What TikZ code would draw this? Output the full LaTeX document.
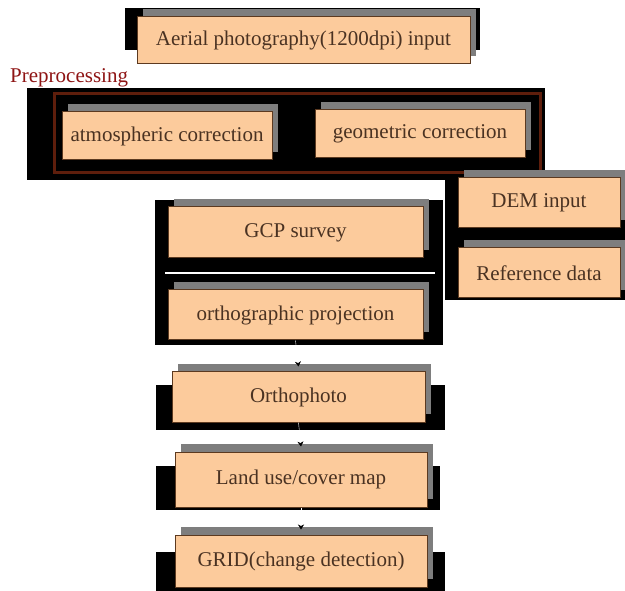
\documentclass[tikz,border=0pt]{standalone}
\usepackage{fontspec}
\setmainfont{Liberation Serif}
\usetikzlibrary{shadows,arrows.meta}
\definecolor{peach}{HTML}{FCCB9C}
\definecolor{boxline}{HTML}{5C3A20}
\definecolor{txt}{HTML}{4A3222}
\definecolor{frame}{HTML}{5E1E0C}
\definecolor{prered}{HTML}{8E1414}
\definecolor{shade}{HTML}{7E7E7E}
\begin{document}
\begin{tikzpicture}[x=1pt,y=-1pt,
  procbox/.style={draw=boxline, line width=1pt, fill=peach, text=txt,
    font=\fontsize{21}{24}\selectfont, inner sep=0pt,
    general shadow={fill=shade, shadow xshift=6pt, shadow yshift=8pt}},
  blackbg/.style={fill=black},
  link/.style={draw=white, line width=0.4pt, -{Stealth[length=5pt,width=6pt,black]}}]
\useasboundingbox (0,0) rectangle (625,591);
% black backgrounds
\fill[blackbg] (125,8) rectangle (480,50);
\fill[blackbg] (27,88) rectangle (545,180);
\fill[blackbg] (445,172) rectangle (625,300);
\fill[blackbg] (155,200) rectangle (443,345);
\draw[white, line width=1.5pt] (165,273) -- (435,273);
\fill[blackbg] (156,385) rectangle (445,430);
\fill[blackbg] (156,466) rectangle (440,510);
\fill[blackbg] (156,552) rectangle (445,591);
% preprocessing frame
\draw[frame, line width=3pt, fill=black] (54,94) rectangle (540,173);
\node[anchor=west, text=prered, font=\fontsize{21}{24}\selectfont, inner sep=0pt] (pre) at (10,78) {Preprocessing};
% boxes
\node[procbox, minimum width=333pt, minimum height=47pt] (aer) at (303.5,40.5) {Aerial photography(1200dpi) input};
\node[procbox, minimum width=210pt, minimum height=48pt] (atm) at (167,136) {atmospheric correction};
\node[procbox, minimum width=210pt, minimum height=48pt] (geo) at (420,134) {geometric correction};
\node[procbox, minimum width=162pt, minimum height=50pt] (dem) at (539,203) {DEM input};
\node[procbox, minimum width=162pt, minimum height=50pt] (ref) at (539,273) {Reference data};
\node[procbox, minimum width=255pt, minimum height=51pt] (gcp) at (295.5,232.5) {GCP survey};
\node[procbox, minimum width=255pt, minimum height=50pt] (orp) at (295.5,315) {orthographic projection};
\node[procbox, minimum width=253pt, minimum height=50pt] (oph) at (298.5,397) {Orthophoto};
\node[procbox, minimum width=252pt, minimum height=55pt] (lum) at (301,479.5) {Land use/cover map};
\node[procbox, minimum width=252pt, minimum height=52pt] (grd) at (301,561) {GRID(change detection)};
% connectors
\draw[link] (orp.south) -- ([yshift=5pt]oph.north);
\draw[link] (oph.south) -- ([yshift=5pt]lum.north);
\draw[link] (lum.south) -- ([yshift=5pt]grd.north);
\end{tikzpicture}
\end{document}
